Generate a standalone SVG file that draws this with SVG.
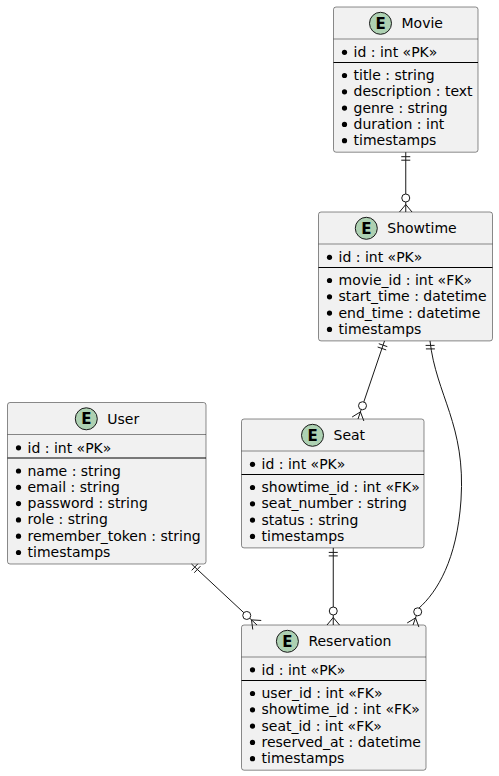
<svg xmlns="http://www.w3.org/2000/svg" width="499" height="776" viewBox="0 0 499 776">
<style>
.box{fill:#F1F1F1;stroke:#181818;stroke-width:0.5}
.hsep{stroke:#181818;stroke-width:0.5}
.psep{stroke:#000000;stroke-width:1}
.badge{fill:#ADD1B2;stroke:#181818;stroke-width:1}
.bl{font-family:"DejaVu Sans",sans-serif;font-size:15px;font-weight:bold;fill:#000;text-anchor:middle}
.tt{font-family:"DejaVu Sans",sans-serif;font-size:14px;fill:#000}
.at{font-family:"DejaVu Sans",sans-serif;font-size:14px;fill:#000}
.dot{fill:#000}
.ln{stroke:#181818;stroke-width:1;fill:none}
.oc{stroke:#181818;stroke-width:1;fill:#FFFFFF}
</style>
<rect width="499" height="776" fill="#FFFFFF"/>

<g id="Movie">
<rect class="box" x="333.5" y="7" width="144.5" height="145.2" rx="2.5" ry="2.5"/>
<circle class="badge" cx="380.5" cy="23.3" r="11"/>
<text class="bl" x="380.5" y="28.8">E</text>
<text class="tt" x="401.5" y="28">Movie</text>
<line class="hsep" x1="333.5" y1="39" x2="478" y2="39"/>
<circle class="dot" cx="344.5" cy="52.3" r="2.6"/>
<text class="at" x="353.5" y="57">id : int «PK»</text>
<line class="psep" x1="333.5" y1="62.5" x2="478" y2="62.5"/>
<circle class="dot" cx="344.5" cy="75.5" r="2.6"/>
<text class="at" x="353.5" y="80">title : string</text>
<circle class="dot" cx="344.5" cy="91.8" r="2.6"/>
<text class="at" x="353.5" y="96.3">description : text</text>
<circle class="dot" cx="344.5" cy="108.1" r="2.6"/>
<text class="at" x="353.5" y="112.6">genre : string</text>
<circle class="dot" cx="344.5" cy="124.4" r="2.6"/>
<text class="at" x="353.5" y="128.9">duration : int</text>
<circle class="dot" cx="344.5" cy="140.7" r="2.6"/>
<text class="at" x="353.5" y="145.2">timestamps</text>
</g>

<g id="Showtime">
<rect class="box" x="318.5" y="212" width="174" height="128.9" rx="2.5" ry="2.5"/>
<circle class="badge" cx="366.3" cy="228.3" r="11"/>
<text class="bl" x="366.3" y="233.8">E</text>
<text class="tt" x="387.3" y="233">Showtime</text>
<line class="hsep" x1="318.5" y1="244" x2="492.5" y2="244"/>
<circle class="dot" cx="329.5" cy="257.3" r="2.6"/>
<text class="at" x="338.5" y="262">id : int «PK»</text>
<line class="psep" x1="318.5" y1="267.5" x2="492.5" y2="267.5"/>
<circle class="dot" cx="329.5" cy="280.5" r="2.6"/>
<text class="at" x="338.5" y="285">movie_id : int «FK»</text>
<circle class="dot" cx="329.5" cy="296.8" r="2.6"/>
<text class="at" x="338.5" y="301.3">start_time : datetime</text>
<circle class="dot" cx="329.5" cy="313.1" r="2.6"/>
<text class="at" x="338.5" y="317.6">end_time : datetime</text>
<circle class="dot" cx="329.5" cy="329.4" r="2.6"/>
<text class="at" x="338.5" y="333.9">timestamps</text>
</g>

<g id="User">
<rect class="box" x="7.5" y="402.5" width="198.5" height="161.5" rx="2.5" ry="2.5"/>
<circle class="badge" cx="86.3" cy="418.8" r="11"/>
<text class="bl" x="86.3" y="424.3">E</text>
<text class="tt" x="107.3" y="423.5">User</text>
<line class="hsep" x1="7.5" y1="434.5" x2="206" y2="434.5"/>
<circle class="dot" cx="18.5" cy="447.8" r="2.6"/>
<text class="at" x="27.5" y="452.5">id : int «PK»</text>
<line class="psep" x1="7.5" y1="458" x2="206" y2="458"/>
<circle class="dot" cx="18.5" cy="471" r="2.6"/>
<text class="at" x="27.5" y="475.5">name : string</text>
<circle class="dot" cx="18.5" cy="487.3" r="2.6"/>
<text class="at" x="27.5" y="491.8">email : string</text>
<circle class="dot" cx="18.5" cy="503.6" r="2.6"/>
<text class="at" x="27.5" y="508.1">password : string</text>
<circle class="dot" cx="18.5" cy="519.9" r="2.6"/>
<text class="at" x="27.5" y="524.4">role : string</text>
<circle class="dot" cx="18.5" cy="536.2" r="2.6"/>
<text class="at" x="27.5" y="540.7">remember_token : string</text>
<circle class="dot" cx="18.5" cy="552.5" r="2.6"/>
<text class="at" x="27.5" y="557">timestamps</text>
</g>

<g id="Seat">
<rect class="box" x="241.5" y="419" width="182.5" height="128.9" rx="2.5" ry="2.5"/>
<circle class="badge" cx="312.5" cy="435.3" r="11"/>
<text class="bl" x="312.5" y="440.8">E</text>
<text class="tt" x="333.5" y="440">Seat</text>
<line class="hsep" x1="241.5" y1="451" x2="424" y2="451"/>
<circle class="dot" cx="252.5" cy="464.3" r="2.6"/>
<text class="at" x="261.5" y="469">id : int «PK»</text>
<line class="psep" x1="241.5" y1="474.5" x2="424" y2="474.5"/>
<circle class="dot" cx="252.5" cy="487.5" r="2.6"/>
<text class="at" x="261.5" y="492">showtime_id : int «FK»</text>
<circle class="dot" cx="252.5" cy="503.8" r="2.6"/>
<text class="at" x="261.5" y="508.3">seat_number : string</text>
<circle class="dot" cx="252.5" cy="520.1" r="2.6"/>
<text class="at" x="261.5" y="524.6">status : string</text>
<circle class="dot" cx="252.5" cy="536.4" r="2.6"/>
<text class="at" x="261.5" y="540.9">timestamps</text>
</g>

<g id="Reservation">
<rect class="box" x="241.5" y="625" width="184.5" height="145.2" rx="2.5" ry="2.5"/>
<circle class="badge" cx="287.4" cy="641.3" r="11"/>
<text class="bl" x="287.4" y="646.8">E</text>
<text class="tt" x="308.4" y="646">Reservation</text>
<line class="hsep" x1="241.5" y1="657" x2="426" y2="657"/>
<circle class="dot" cx="252.5" cy="669.8" r="2.6"/>
<text class="at" x="261.5" y="674.5">id : int «PK»</text>
<line class="psep" x1="241.5" y1="680.5" x2="426" y2="680.5"/>
<circle class="dot" cx="252.5" cy="693.5" r="2.6"/>
<text class="at" x="261.5" y="698">user_id : int «FK»</text>
<circle class="dot" cx="252.5" cy="709.8" r="2.6"/>
<text class="at" x="261.5" y="714.3">showtime_id : int «FK»</text>
<circle class="dot" cx="252.5" cy="726.1" r="2.6"/>
<text class="at" x="261.5" y="730.6">seat_id : int «FK»</text>
<circle class="dot" cx="252.5" cy="742.4" r="2.6"/>
<text class="at" x="261.5" y="746.9">reserved_at : datetime</text>
<circle class="dot" cx="252.5" cy="758.7" r="2.6"/>
<text class="at" x="261.5" y="763.2">timestamps</text>
</g>

<g id="connectors">
<!-- Movie -> Showtime -->
<line class="ln" x1="405.75" y1="152.2" x2="405.75" y2="212"/>
<line class="ln" x1="401.25" y1="156.7" x2="410.25" y2="156.7"/>
<line class="ln" x1="401.25" y1="160.2" x2="410.25" y2="160.2"/>
<line class="ln" x1="405.75" y1="204.5" x2="399.5" y2="212"/>
<line class="ln" x1="405.75" y1="204.5" x2="412" y2="212"/>
<circle class="oc" cx="405.75" cy="198" r="4"/>

<!-- Showtime -> Seat -->
<line class="ln" x1="384.5" y1="340.9" x2="358" y2="419"/>
<line class="ln" x1="387.31" y1="346.61" x2="378.79" y2="343.71"/>
<line class="ln" x1="386.19" y1="349.93" x2="377.67" y2="347.03"/>
<line class="ln" x1="360.41" y1="411.9" x2="363.87" y2="420.99"/>
<line class="ln" x1="360.41" y1="411.9" x2="352.13" y2="417.01"/>
<circle class="oc" cx="362.5" cy="405.74" r="4"/>

<!-- Showtime -> Reservation -->
<path class="ln" d="M430,340.9 C436,395 466,425 461,500 C457,560 437,592 419.03,608.03"/>
<line class="ln" x1="425.6" y1="345.4" x2="434.6" y2="345.4"/>
<line class="ln" x1="425.9" y1="348.9" x2="434.9" y2="348.9"/>
<line class="ln" x1="417.7" y1="611.8" x2="413.04" y2="625"/>
<line class="ln" x1="415.54" y1="617.93" x2="418.89" y2="627.06"/>
<line class="ln" x1="415.54" y1="617.93" x2="407.19" y2="622.94"/>
<circle class="oc" cx="417.7" cy="611.8" r="4"/>

<!-- Seat -> Reservation -->
<line class="ln" x1="333.25" y1="547.9" x2="333.25" y2="625"/>
<line class="ln" x1="328.75" y1="552.4" x2="337.75" y2="552.4"/>
<line class="ln" x1="328.75" y1="555.9" x2="337.75" y2="555.9"/>
<line class="ln" x1="333.25" y1="617.5" x2="327" y2="625"/>
<line class="ln" x1="333.25" y1="617.5" x2="339.5" y2="625"/>
<circle class="oc" cx="333.25" cy="611" r="4"/>

<!-- User -> Reservation -->
<line class="ln" x1="191.5" y1="564" x2="257" y2="625"/>
<line class="ln" x1="191.72" y1="570.36" x2="197.86" y2="563.78"/>
<line class="ln" x1="194.28" y1="572.74" x2="200.42" y2="566.16"/>
<line class="ln" x1="251.51" y1="619.89" x2="252.77" y2="629.54"/>
<line class="ln" x1="251.51" y1="619.89" x2="261.23" y2="620.46"/>
<circle class="oc" cx="246.75" cy="615.46" r="4"/>
</g>
</svg>
